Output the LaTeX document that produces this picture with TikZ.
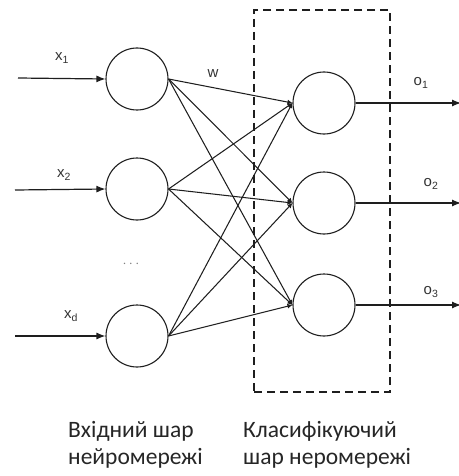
\documentclass[tikz,border=0pt]{standalone}
\usepackage{fontspec}
\setmainfont{Carlito}
\newfontfamily\labelfont{Liberation Sans}
\usetikzlibrary{arrows.meta}
\definecolor{ink}{HTML}{1E1E1E}
\definecolor{captext}{HTML}{262626}
\definecolor{sigtext}{HTML}{333333}
\begin{document}
\begin{tikzpicture}[x=1pt,y=-1pt,
  neuron/.style={circle,draw=ink,line width=1.1pt,minimum size=62pt,inner sep=0pt},
  feed/.style={draw=ink,line width=1.2pt,-{Latex[length=9pt,width=7pt]}},
  weight/.style={draw=ink,line width=1.05pt,-{Latex[length=5pt,width=5pt]}},
  sig/.style={font=\labelfont\fontsize{15}{17}\selectfont,text=sigtext,inner sep=0pt},
  caption/.style={font=\fontsize{23.5}{27}\selectfont,text=captext,align=left,anchor=north west,inner sep=0pt},
  layerbox/.style={draw=ink,line width=1.1pt,dash pattern=on 8pt off 5pt}]
\useasboundingbox (0,0) rectangle (458,476);

% input layer
\node[neuron] (in1) at (137,79) {};
\node[neuron] (in2) at (137,189) {};
\node[neuron] (in3) at (137,336) {};
\node[sig] (dots) at (131,264) {\textcolor{gray}{$\cdots$}};

% classifying layer
\node[neuron] (out1) at (324,103) {};
\node[neuron] (out2) at (324,203) {};
\node[neuron] (out3) at (324,305) {};

% incoming signals
\coordinate (s1) at (18,78);
\coordinate (s2) at (15,190);
\coordinate (s3) at (15,336);
\draw[feed] (s1) -- (in1.west);
\draw[feed] (s2) -- (in2.west);
\draw[feed] (s3) -- (in3.west);
\node[sig] (x1) at (62,58) {x\textsubscript{1}};
\node[sig] (x2) at (64,175) {x\textsubscript{2}};
\node[sig] (xd) at (71,316) {x\textsubscript{d}};

% weighted connections
\foreach \i in {1,2,3}{
  \foreach \j in {1,2,3}{
    \draw[weight] (in\i.east) -- (out\j.west);
  }
}
\node[sig] (w) at (213,74) {w};

% outputs
\coordinate (e1) at (461,103);
\coordinate (e2) at (461,203);
\coordinate (e3) at (461,305);
\draw[feed] (out1.east) -- (e1);
\draw[feed] (out2.east) -- (e2);
\draw[feed] (out3.east) -- (e3);
\node[sig] (o1) at (421,83) {o\textsubscript{1}};
\node[sig] (o2) at (431,184) {o\textsubscript{2}};
\node[sig] (o3) at (431,292) {o\textsubscript{3}};

% classifying layer frame
\node[layerbox,minimum width=136pt,minimum height=382pt,inner sep=0pt] (frame) at (322,201) {};

% layer captions
\node[caption] (capin) at (68,421) {Вхідний шар\\нейромережі};
\node[caption] (capout) at (243,421) {Класифікуючий\\шар неромережі};
\end{tikzpicture}
\end{document}
